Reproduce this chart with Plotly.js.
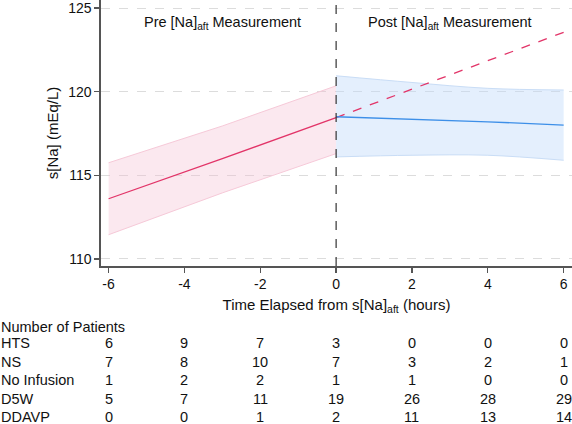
<!DOCTYPE html>
<html>
<head>
<meta charset="utf-8">
<script src="https://cdn.plot.ly/plotly-3.0.1.min.js"></script>
<style>html,body{margin:0;padding:0;background:#fff;}#chart{width:572px;height:424px;}</style>
</head>
<body>
<div id="chart"></div>
<script>
// Pre-measurement fit (red) and CI
const preX = [-6, -3, 0];
const preFit = [113.6, 116.0, 118.45];
const preLower = [111.45, 113.95, 116.3];
const preUpper = [115.75, 117.95, 120.35];
// Extrapolated pre trend (dashed)
const extX = [0, 6];
const extFit = [118.45, 123.55];
// Post-measurement fit (blue) and CI
const postX = [0, 2, 4, 6];
const postFit = [118.5, 118.35, 118.2, 118.0];
const postLower = [116.1, 116.2, 116.2, 115.9];
const postUpper = [120.95, 120.55, 120.2, 120.1];

// Patient table
const tableTimes = [-6, -4, -2, 0, 2, 4, 6];
const groups = ["HTS", "NS", "No Infusion", "D5W", "DDAVP"];
const HTS = [6, 9, 7, 3, 0, 0, 0];
const NS = [7, 8, 10, 7, 3, 2, 1];
const NoInfusion = [1, 2, 2, 1, 1, 0, 0];
const D5W = [5, 7, 11, 19, 26, 28, 29];
const DDAVP = [0, 0, 1, 2, 11, 13, 14];
const counts = [HTS, NS, NoInfusion, D5W, DDAVP];

const font = "Liberation Sans, Arial, Helvetica, sans-serif";
const red = "#e23468";
const blue = "#3d8fe8";

const traces = [
  {x: preX, y: preLower, mode: "lines", line: {color: "#f6c9d8", width: 1}, hoverinfo: "skip", showlegend: false},
  {x: preX, y: preUpper, mode: "lines", fill: "tonexty", fillcolor: "rgba(244,190,210,0.35)", line: {color: "#f6c9d8", width: 1}, hoverinfo: "skip", showlegend: false},
  {x: postX, y: postLower, mode: "lines", line: {color: "#c9ddf6", width: 1, shape: "spline"}, hoverinfo: "skip", showlegend: false},
  {x: postX, y: postUpper, mode: "lines", fill: "tonexty", fillcolor: "rgba(190,218,250,0.42)", line: {color: "#c9ddf6", width: 1, shape: "spline"}, hoverinfo: "skip", showlegend: false},
  {x: preX, y: preFit, mode: "lines", line: {color: red, width: 1.3}, showlegend: false},
  {x: extX, y: extFit, mode: "lines", line: {color: red, width: 1.3, dash: "dash"}, showlegend: false},
  {x: postX, y: postFit, mode: "lines", line: {color: blue, width: 1.3}, showlegend: false}
];

const plotH = 266;
function rowY(py) { return 1 - py / plotH; }

const tfs = 14.5;
const annotations = [
  {x: -3, y: 124.1, xref: "x", yref: "y", text: "Pre [Na]<sub>aft</sub> Measurement", showarrow: false, font: {size: 14.5, color: "#111", family: font}},
  {x: 3, y: 124.1, xref: "x", yref: "y", text: "Post [Na]<sub>aft</sub> Measurement", showarrow: false, font: {size: 14.5, color: "#111", family: font}},
  {x: -101 / 471, y: rowY(327), xref: "paper", yref: "paper", xanchor: "left", yanchor: "middle", text: "Number of Patients", showarrow: false, borderpad: 0, font: {size: tfs, color: "#111", family: font}}
];
const rowPix = [343.3, 361.8, 380.4, 399, 417.2];
groups.forEach((g, i) => {
  annotations.push({x: -101 / 471, y: rowY(rowPix[i]), xref: "paper", yref: "paper", xanchor: "left", yanchor: "middle", text: g, showarrow: false, borderpad: 0, font: {size: tfs, color: "#111", family: font}});
  tableTimes.forEach((t, j) => {
    annotations.push({x: t, y: rowY(rowPix[i]), xref: "x", yref: "paper", xanchor: "center", yanchor: "middle", text: String(counts[i][j]), showarrow: false, borderpad: 0, font: {size: tfs, color: "#111", family: font}});
  });
});

const layout = {
  width: 572, height: 424,
  margin: {l: 101, r: 0, t: 0, b: 158},
  paper_bgcolor: "#fff", plot_bgcolor: "#fff",
  font: {family: font, color: "#111", size: 14},
  xaxis: {
    range: [-6.2, 6.22], tickvals: [-6, -4, -2, 0, 2, 4, 6], ticktext: ["-6", "-4", "-2", "0", "2", "4", "6"],
    showline: true, linecolor: "#555", linewidth: 1.6, ticks: "outside", ticklen: 5, tickwidth: 1.3, tickcolor: "#555",
    showgrid: false, zeroline: false, tickfont: {size: 14},
    title: {text: "Time Elapsed from s[Na]<sub>aft</sub> (hours)", font: {size: 15}, standoff: 8}
  },
  yaxis: {
    range: [109.58, 125.48], tickvals: [110, 115, 120, 125], ticktext: ["110", "115", "120", "125"],
    ticklabeloverflow: "allow",
    showline: true, linecolor: "#555", linewidth: 1.6, ticks: "outside", ticklen: 5, tickwidth: 1.3, tickcolor: "#555",
    showgrid: true, gridcolor: "#dcdcdc", griddash: "dash", gridwidth: 1, zeroline: false, tickfont: {size: 14},
    title: {text: "s[Na] (mEq/L)", font: {size: 15}, standoff: 6}
  },
  shapes: [
    {type: "line", xref: "x", yref: "paper", x0: 0, x1: 0, y0: 0, y1: 1, line: {color: "#333", width: 1.2, dash: "dash"}}
  ],
  annotations: annotations,
  showlegend: false
};

Plotly.newPlot("chart", traces, layout, {displayModeBar: false, staticPlot: true});
</script>
</body>
</html>
